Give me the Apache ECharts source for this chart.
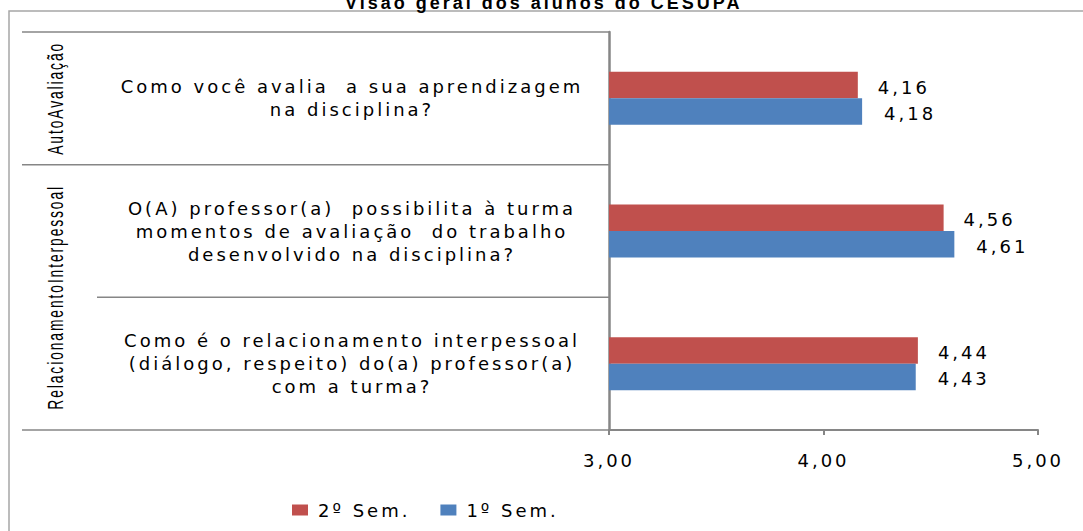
<!DOCTYPE html>
<html>
<head>
<meta charset="utf-8">
<script src="https://cdn.jsdelivr.net/npm/echarts@6/dist/echarts.min.js"></script>
<style>
html, body { margin: 0; padding: 0; background: #fff; }
#grafico { width: 1083px; height: 531px; letter-spacing: 3px; }
#grafico text { white-space: pre; }
</style>
</head>
<body>
<div id="grafico"></div>
<script>
// categorias de baixo para cima (eixo de categorias do echarts)
var perguntas = [
    'Como é o relacionamento interpessoal\n(diálogo, respeito) do(a) professor(a)\ncom a turma?',
    'O(A) professor(a)  possibilita à turma\nmomentos de avaliação  do trabalho\ndesenvolvido na disciplina?',
    'Como você avalia  a sua aprendizagem\nna disciplina?'
];
var sem2 = [4.44, 4.56, 4.16];   // 2º Sem.
var sem1 = [4.43, 4.61, 4.18];   // 1º Sem.
var grupos = ['RelacionamentoInterpessoal', 'AutoAvaliação'];
var grupoInicio = [0, 2];  // primeira pergunta de cada grupo
var grupoFim = [1, 2];     // ultima pergunta de cada grupo
var eixoMin = 3, eixoMax = 5, eixoPasso = 1;

var fonte = 'DejaVu Sans';
var cinza = '#868686';
function virgula(v) { return v.toFixed(2).replace('.', ','); }

var myChart = echarts.init(document.getElementById('grafico'), null, { renderer: 'svg' });

var option = {
    animation: false,
    title: {
        text: 'Visão geral dos alunos do CESUPA',
        left: 345,
        top: -6,
        padding: 0,
        textStyle: { fontFamily: 'Liberation Sans', fontWeight: 'bold', fontSize: 18, color: '#000' }
    },
    legend: {
        data: ['2º Sem.', '1º Sem.'],
        left: 287,
        top: 496,
        icon: 'rect',
        itemWidth: 16,
        itemHeight: 11,
        itemGap: 51,
        textStyle: { fontFamily: fonte, fontSize: 18, color: '#000', padding: [0, 0, 0, 5] }
    },
    grid: { left: 609, right: 45, top: 32, bottom: 101 },
    xAxis: {
        type: 'value',
        min: eixoMin,
        max: eixoMax,
        interval: eixoPasso,
        splitLine: { show: false },
        axisLine: { show: true, lineStyle: { color: cinza, width: 2 } },
        axisTick: { show: true, length: 5, lineStyle: { color: cinza, width: 2 } },
        axisLabel: {
            margin: 21,
            fontFamily: fonte,
            fontSize: 18,
            color: '#000',
            formatter: function (v) { return virgula(v); }
        }
    },
    yAxis: {
        type: 'category',
        data: perguntas,
        axisLine: { show: true, lineStyle: { color: cinza, width: 2.5 } },
        axisTick: { show: false },
        splitLine: { show: false },
        axisLabel: {
            interval: 0,
            margin: 257,
            align: 'center',
            lineHeight: 23,
            fontFamily: fonte,
            fontSize: 18,
            color: '#000'
        }
    },
    series: [
        {
            name: '2º Sem.',
            type: 'bar',
            data: sem2,
            barGap: 0,
            barCategoryGap: '60%',
            itemStyle: { color: '#C0504D' },
            label: {
                show: true, position: 'right', distance: 20, offset: [0, 2],
                fontFamily: fonte, fontSize: 18, color: '#000',
                formatter: function (p) { return virgula(p.value); }
            }
        },
        {
            name: '1º Sem.',
            type: 'bar',
            data: sem1,
            barGap: 0,
            barCategoryGap: '60%',
            itemStyle: { color: '#4F81BD' },
            label: {
                show: true, position: 'right', distance: 22, offset: [0, 2],
                fontFamily: fonte, fontSize: 18, color: '#000',
                formatter: function (p) { return virgula(p.value); }
            }
        }
    ]
};
myChart.setOption(option);

// linhas da tabela de rotulos e textos dos grupos, a partir das posicoes do eixo
var x0 = myChart.convertToPixel({ xAxisIndex: 0 }, eixoMin);
var yc = perguntas.map(function (p, i) { return myChart.convertToPixel({ yAxisIndex: 0 }, i); });
var meia = Math.abs(yc[0] - yc[1]) / 2;
var linha = { stroke: cinza, lineWidth: 1.5 };
var graficos = [
    { type: 'rect', z: -1, shape: { x: 9, y: 11, width: 1200, height: 600 }, style: { fill: 'none', stroke: '#a6a6a6', lineWidth: 1.5 } }
];
// bordas das perguntas
for (var i = 0; i <= perguntas.length; i++) {
    var y = (i < perguntas.length ? yc[i] + meia : yc[i - 1] - meia);
    var inicioGrupo = grupoInicio.indexOf(i) >= 0 || i === perguntas.length;
    graficos.push({ type: 'line', shape: { x1: inicioGrupo ? 22 : 97, y1: y, x2: x0, y2: y }, style: linha });
}
// nomes dos grupos, verticais e comprimidos
grupos.forEach(function (g, k) {
    var yMeio = (yc[grupoInicio[k]] + yc[grupoFim[k]]) / 2;
    graficos.push({
        type: 'text', x: 55, y: yMeio, rotation: Math.PI / 2, scaleX: 0.63,
        style: { text: g, font: '22px "Liberation Sans"', fill: '#000', align: 'center', verticalAlign: 'middle' }
    });
});
myChart.setOption({ graphic: graficos });
</script>
</body>
</html>
